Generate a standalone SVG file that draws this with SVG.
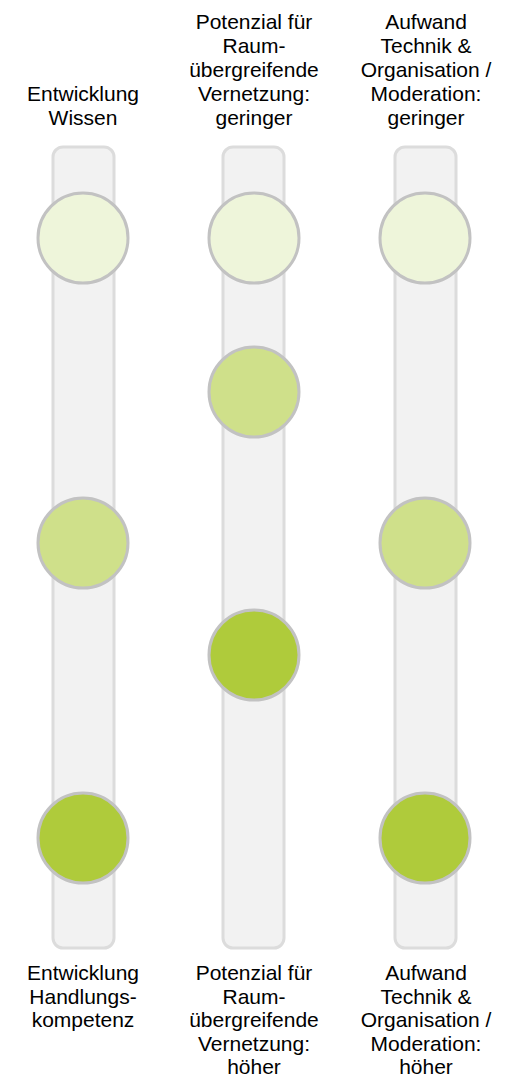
<svg xmlns="http://www.w3.org/2000/svg" width="513" height="1082" viewBox="0 0 513 1082">
<style>
.bar{fill:#f2f2f2;stroke:#dcdcdc;stroke-width:3}
.dot{stroke:#c2c2c2;stroke-width:3}
.l1{fill:#eef5da}
.l2{fill:#cfe08a}
.l3{fill:#afcb3b}
text{font-family:"Liberation Sans",Arial,sans-serif;font-size:21px;fill:#000;text-anchor:middle}
</style>
<rect width="513" height="1082" fill="#fff"/>
<g id="col1">
<text x="83" y="101">Entwicklung</text>
<text x="83" y="125">Wissen</text>
<rect class="bar" x="53" y="147" width="61" height="801" rx="10"/>
<circle class="dot l1" cx="83" cy="238" r="45"/>
<circle class="dot l2" cx="83" cy="543" r="45"/>
<circle class="dot l3" cx="83" cy="838" r="45"/>
<text x="83" y="980">Entwicklung</text>
<text x="83" y="1003.5">Handlungs-</text>
<text x="83" y="1027">kompetenz</text>
</g>
<g id="col2">
<text x="254" y="29">Potenzial für</text>
<text x="254" y="53">Raum-</text>
<text x="254" y="77">übergreifende</text>
<text x="254" y="101">Vernetzung:</text>
<text x="254" y="125">geringer</text>
<rect class="bar" x="223" y="147" width="61" height="801" rx="10"/>
<circle class="dot l1" cx="254" cy="238" r="45"/>
<circle class="dot l2" cx="254" cy="392" r="45"/>
<circle class="dot l3" cx="254" cy="655" r="45"/>
<text x="254" y="980">Potenzial für</text>
<text x="254" y="1003.5">Raum-</text>
<text x="254" y="1027">übergreifende</text>
<text x="254" y="1050.5">Vernetzung:</text>
<text x="254" y="1074">höher</text>
</g>
<g id="col3">
<text x="426" y="29">Aufwand</text>
<text x="426" y="53">Technik &amp;</text>
<text x="426" y="77">Organisation /</text>
<text x="426" y="101">Moderation:</text>
<text x="426" y="125">geringer</text>
<rect class="bar" x="395" y="147" width="61" height="801" rx="10"/>
<circle class="dot l1" cx="425" cy="238" r="45"/>
<circle class="dot l2" cx="425" cy="543" r="45"/>
<circle class="dot l3" cx="425" cy="838" r="45"/>
<text x="426" y="980">Aufwand</text>
<text x="426" y="1003.5">Technik &amp;</text>
<text x="426" y="1027">Organisation /</text>
<text x="426" y="1050.5">Moderation:</text>
<text x="426" y="1074">höher</text>
</g>
<g id="connectors"/>
</svg>
